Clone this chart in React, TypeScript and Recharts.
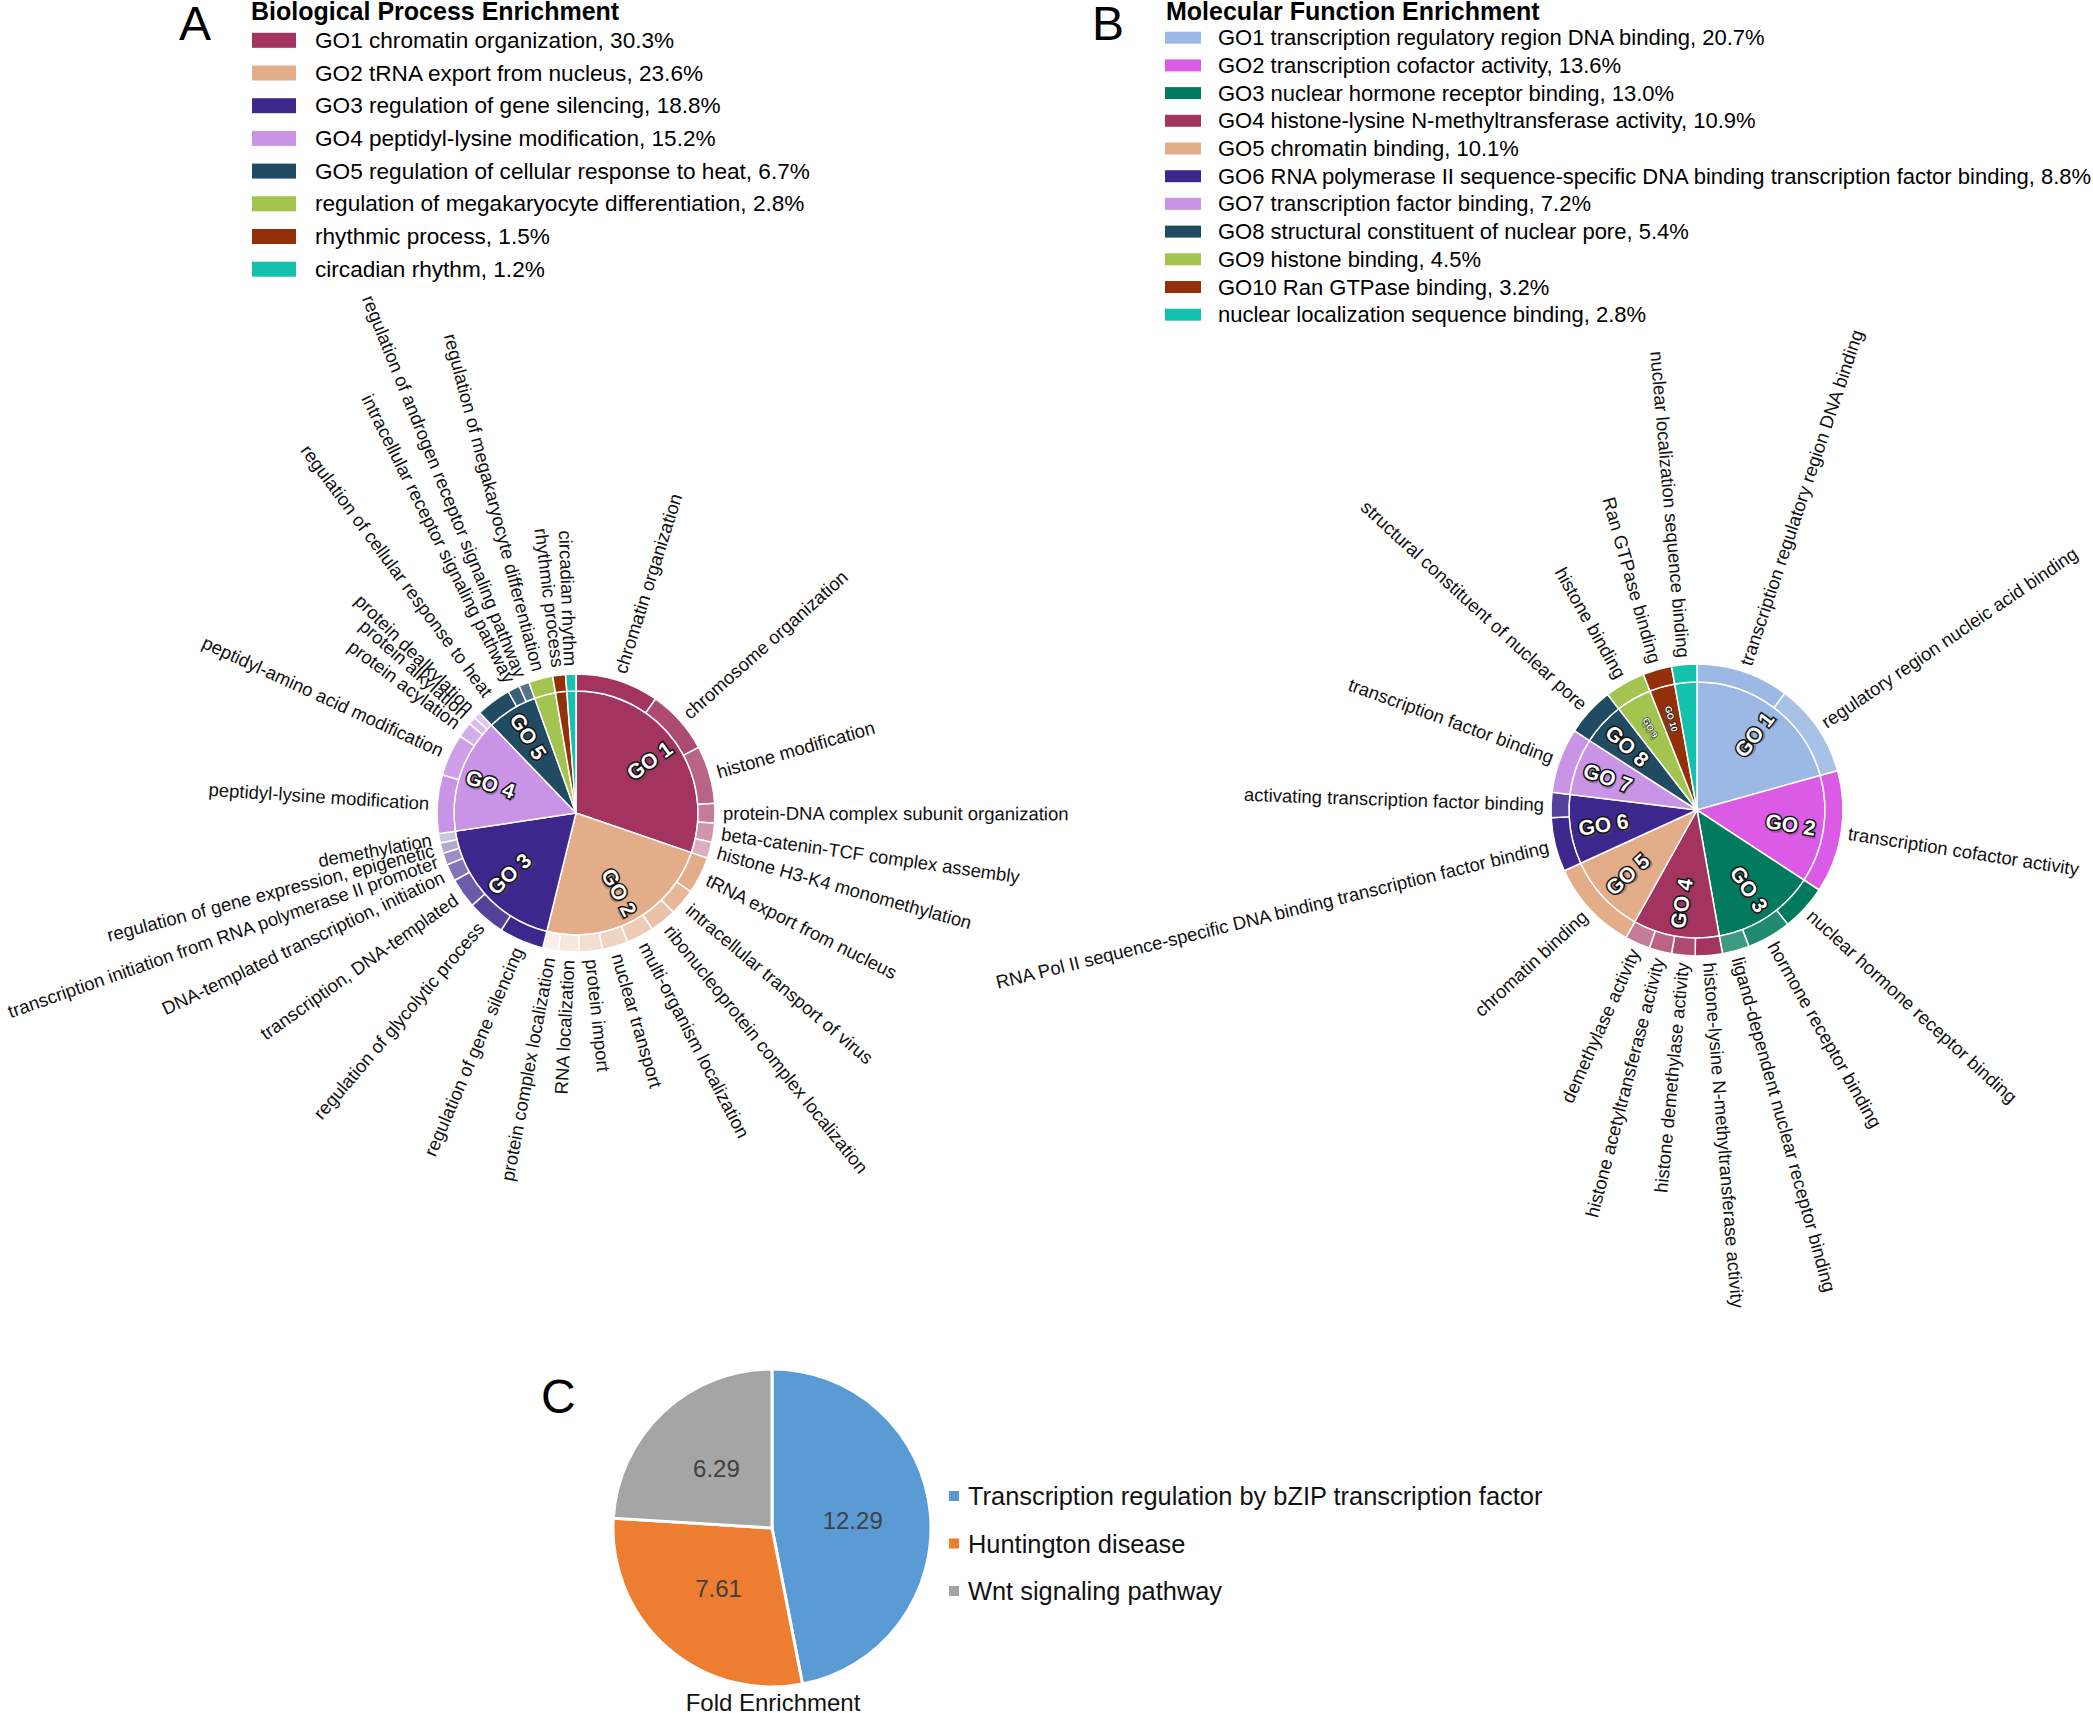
import React from 'react';
import { PieChart, Pie, Cell } from 'recharts';

const FONT = '"Liberation Sans", Arial, Helvetica, sans-serif';
const RAD = Math.PI / 180;

// ---- A: biological process ----
const bpLegend = [
  'GO1 chromatin organization, 30.3%',
  'GO2 tRNA export from nucleus, 23.6%',
  'GO3 regulation of gene silencing, 18.8%',
  'GO4 peptidyl-lysine modification, 15.2%',
  'GO5 regulation of cellular response to heat, 6.7%',
  'regulation of megakaryocyte differentiation, 2.8%',
  'rhythmic process, 1.5%',
  'circadian rhythm, 1.2%',
];
const bpGroupLabels = ['GO 1', 'GO 2', 'GO 3', 'GO 4', 'GO 5', '', '', ''];
const bpGroupValues = [30.3, 23.6, 18.8, 15.2, 6.7, 2.8, 1.5, 1.2];
const bpColors = ['#A3335F', '#E3AD8A', '#3E278C', '#C993E6', '#214B63', '#A3C54F', '#93300A', '#14C1AC'];

const bpTerms = [
  'chromatin organization', 'chromosome organization', 'histone modification',
  'protein-DNA complex subunit organization', 'beta-catenin-TCF complex assembly', 'histone H3-K4 monomethylation',
  'tRNA export from nucleus', 'intracellular transport of virus', 'ribonucleoprotein complex localization',
  'multi-organism localization', 'nuclear transport', 'protein import', 'RNA localization', 'protein complex localization',
  'regulation of gene silencing', 'regulation of glycolytic process', 'transcription, DNA-templated',
  'DNA-templated transcription, initiation', 'transcription initiation from RNA polymerase II promoter',
  'regulation of gene expression, epigenetic', 'demethylation',
  'peptidyl-lysine modification', 'peptidyl-amino acid modification', 'protein acylation', 'protein alkylation', 'protein dealkylation',
  'regulation of cellular response to heat', 'intracellular receptor signaling pathway', 'regulation of androgen receptor signaling pathway',
  'regulation of megakaryocyte differentiation', 'rhythmic process', 'circadian rhythm',
];
const bpTermValues = [
  9.7, 7.5, 6.7, 2.3, 2.2, 1.9,
  4.3, 3.1, 3.1, 3.2, 3.0, 2.7, 2.4, 1.8,
  5.2, 4.4, 3.5, 2.0, 1.4, 1.2, 1.1,
  6.8, 4.9, 1.8, 0.9, 0.8,
  4.1, 1.4, 1.2,
  2.8, 1.5, 1.2,
];
const bpTermGroup = [
  0, 0, 0, 0, 0, 0,
  1, 1, 1, 1, 1, 1, 1, 1,
  2, 2, 2, 2, 2, 2, 2,
  3, 3, 3, 3, 3,
  4, 4, 4,
  5, 6, 7,
];

// ---- B: molecular function ----
const mfLegend = [
  'GO1 transcription regulatory region DNA binding, 20.7%',
  'GO2 transcription cofactor activity, 13.6%',
  'GO3 nuclear hormone receptor binding, 13.0%',
  'GO4 histone-lysine N-methyltransferase activity, 10.9%',
  'GO5 chromatin binding, 10.1%',
  'GO6 RNA polymerase II sequence-specific DNA binding transcription factor binding, 8.8%',
  'GO7 transcription factor binding, 7.2%',
  'GO8 structural constituent of nuclear pore, 5.4%',
  'GO9 histone binding, 4.5%',
  'GO10 Ran GTPase binding, 3.2%',
  'nuclear localization sequence binding, 2.8%',
];
const mfGroupLabels = ['GO 1', 'GO 2', 'GO 3', 'GO 4', 'GO 5', 'GO 6', 'GO 7', 'GO 8', 'GO 9', 'GO 10', ''];
const mfGroupValues = [20.7, 13.6, 13.0, 10.9, 10.1, 8.8, 7.2, 5.4, 4.5, 3.2, 2.8];
const mfColors = ['#9BB9E4', '#DB5BE7', '#027A5E', '#A3335F', '#E3AD8A', '#3E278C', '#C993E6', '#214B63', '#A3C54F', '#93300A', '#14C1AC'];

const mfTerms = [
  'transcription regulatory region DNA binding', 'regulatory region nucleic acid binding',
  'transcription cofactor activity',
  'nuclear hormone receptor binding', 'hormone receptor binding', 'ligand-dependent nuclear receptor binding',
  'histone-lysine N-methyltransferase activity', 'histone demethylase activity', 'histone acetyltransferase activity', 'demethylase activity',
  'chromatin binding',
  'RNA Pol II sequence-specific DNA binding transcription factor binding', 'activating transcription factor binding',
  'transcription factor binding',
  'structural constituent of nuclear pore',
  'histone binding',
  'Ran GTPase binding',
  'nuclear localization sequence binding',
];
const mfTermValues = [10.3, 10.4, 13.6, 5.1, 4.9, 3.0, 3.0, 2.6, 2.5, 2.8, 10.1, 6.0, 2.8, 7.2, 5.4, 4.5, 3.2, 2.8];
const mfTermGroup = [0, 0, 1, 2, 2, 2, 3, 3, 3, 3, 4, 5, 5, 6, 7, 8, 9, 10];

// ---- C: fold enrichment ----
const feNames = ['Transcription regulation by bZIP transcription factor', 'Huntington disease', 'Wnt signaling pathway'];
const feValues = [12.29, 7.61, 6.29];
const feColors = ['#5B9BD5', '#ED7D31', '#A5A5A5'];

// mix a hex colour toward white
const lighten = (hex: string, t: number) => {
  const n = parseInt(hex.slice(1), 16);
  const ch = [(n >> 16) & 255, (n >> 8) & 255, n & 255].map((c) => Math.round(c + (255 - c) * t));
  return `rgb(${ch.join(',')})`;
};

const termColors = (groups: number[], colors: string[]) =>
  groups.map((g, i) => {
    const rank = groups.slice(0, i).filter((x) => x === g).length;
    return lighten(colors[g], Math.min(rank * 0.12, 0.8));
  });

const radialLabel = (offset: number, size: number) => (p: any) => {
  const { cx, cy, midAngle, outerRadius } = p;
  const name = p.name ?? p.payload?.name;
  const r = outerRadius + offset;
  const c = Math.cos(-midAngle * RAD);
  const s = Math.sin(-midAngle * RAD);
  const x = cx + r * c;
  const y = cy + r * s;
  const right = c >= 0;
  const rot = right ? -midAngle : 180 - midAngle;
  return (
    <text x={x} y={y} transform={`rotate(${rot} ${x} ${y})`} textAnchor={right ? 'start' : 'end'}
      dominantBaseline="central" fontSize={size} fontFamily={FONT} fill="#111">
      {name}
    </text>
  );
};

const innerLabel = (labels: string[]) => (p: any) => {
  const text = labels[p.index];
  if (!text) return null;
  const { cx, cy, midAngle, outerRadius, value } = p;
  const r = outerRadius * 0.74;
  const c = Math.cos(-midAngle * RAD);
  const s = Math.sin(-midAngle * RAD);
  const x = cx + r * c;
  const y = cy + r * s;
  const rot = c >= 0 ? -midAngle : 180 - midAngle;
  const fs = value < 5 ? 9 : 21;
  const sw = value < 5 ? 1.2 : 3;
  return (
    <g transform={`rotate(${rot} ${x} ${y})`}>
      <text x={x + 2} y={y + 3} textAnchor="middle" dominantBaseline="central" fontSize={fs} fontWeight="bold"
        fontFamily={FONT} fill="#555" opacity={0.45}>{text}</text>
      <text x={x} y={y} textAnchor="middle" dominantBaseline="central" fontSize={fs} fontWeight="bold"
        fontFamily={FONT} fill="#fff" stroke="#111" strokeWidth={sw} paintOrder="stroke">{text}</text>
    </g>
  );
};

const feLabel = (p: any) => {
  const { cx, cy, midAngle, outerRadius, value } = p;
  const r = outerRadius * 0.51;
  const x = cx + r * Math.cos(-midAngle * RAD);
  const y = cy + r * Math.sin(-midAngle * RAD);
  return (
    <text x={x} y={y} textAnchor="middle" dominantBaseline="central" fontSize={24} fontFamily={FONT} fill="#404040">
      {value.toFixed(2)}
    </text>
  );
};

const W = 2093;
const H = 1713;

export default function App() {
  const bpInner = bpGroupValues.map((v, i) => ({ name: bpGroupLabels[i], value: v }));
  const bpOuter = bpTerms.map((n, i) => ({ name: n, value: bpTermValues[i] }));
  const bpOuterColors = termColors(bpTermGroup, bpColors);
  const mfInner = mfGroupValues.map((v, i) => ({ name: mfGroupLabels[i], value: v }));
  const mfOuter = mfTerms.map((n, i) => ({ name: n, value: mfTermValues[i] }));
  const mfOuterColors = termColors(mfTermGroup, mfColors);
  const feData = feNames.map((n, i) => ({ name: n, value: feValues[i] }));

  return (
    <div style={{ position: 'absolute', left: 0, top: 0, width: W, height: H, background: '#fff', overflow: 'hidden' }}>
      <PieChart width={W} height={H} margin={{ top: 0, right: 0, bottom: 0, left: 0 }}
        style={{ position: 'absolute', left: 0, top: 0 }}>
        <Pie data={bpInner} dataKey="value" cx={576} cy={813} outerRadius={122} startAngle={90} endAngle={-270}
          stroke="#fff" strokeWidth={1.5} isAnimationActive={false} labelLine={false} label={innerLabel(bpGroupLabels)}>
          {bpInner.map((d, i) => <Cell key={i} fill={bpColors[i]} />)}
        </Pie>
        <Pie data={bpOuter} dataKey="value" cx={576} cy={813} innerRadius={122} outerRadius={139} startAngle={90} endAngle={-270}
          stroke="#fff" strokeWidth={1.5} isAnimationActive={false} labelLine={false} label={radialLabel(8, 18.5)}>
          {bpOuter.map((d, i) => <Cell key={i} fill={bpOuterColors[i]} />)}
        </Pie>
        <Pie data={mfInner} dataKey="value" cx={1697} cy={810} outerRadius={128} startAngle={90} endAngle={-270}
          stroke="#fff" strokeWidth={1.5} isAnimationActive={false} labelLine={false} label={innerLabel(mfGroupLabels)}>
          {mfInner.map((d, i) => <Cell key={i} fill={mfColors[i]} />)}
        </Pie>
        <Pie data={mfOuter} dataKey="value" cx={1697} cy={810} innerRadius={128} outerRadius={146} startAngle={90} endAngle={-270}
          stroke="#fff" strokeWidth={1.5} isAnimationActive={false} labelLine={false} label={radialLabel(7, 18.5)}>
          {mfOuter.map((d, i) => <Cell key={i} fill={mfOuterColors[i]} />)}
        </Pie>
        <Pie data={feData} dataKey="value" cx={772} cy={1528} outerRadius={159} startAngle={90} endAngle={-270}
          stroke="#fff" strokeWidth={3} isAnimationActive={false} labelLine={false} label={feLabel}>
          {feData.map((d, i) => <Cell key={i} fill={feColors[i]} />)}
        </Pie>
      </PieChart>

      <svg width={W} height={H} style={{ position: 'absolute', left: 0, top: 0, pointerEvents: 'none' }} fontFamily={FONT}>
        <text x={179} y={40} fontSize={48}>A</text>
        <text x={1092} y={40} fontSize={48}>B</text>
        <text x={541} y={1413} fontSize={48}>C</text>

        <text x={251} y={20} fontSize={25} fontWeight="bold">Biological Process Enrichment</text>
        {bpLegend.map((t, i) => (
          <g key={t}>
            <rect x={252} y={40.3 + i * 32.7 - 7.5} width={44} height={15} fill={bpColors[i]} />
            <text x={315} y={40.3 + i * 32.7} fontSize={22.6} dominantBaseline="central">{t}</text>
          </g>
        ))}

        <text x={1166} y={20} fontSize={25} fontWeight="bold">Molecular Function Enrichment</text>
        {mfLegend.map((t, i) => (
          <g key={t}>
            <rect x={1165} y={37.7 + i * 27.7 - 6} width={36} height={12} fill={mfColors[i]} />
            <text x={1218} y={37.7 + i * 27.7} fontSize={22} dominantBaseline="central">{t}</text>
          </g>
        ))}

        {feNames.map((t, i) => (
          <g key={t}>
            <rect x={949} y={1496 + i * 47.5 - 5} width={10} height={10} fill={feColors[i]} />
            <text x={968} y={1496 + i * 47.5} fontSize={25.4} dominantBaseline="central" fill="#111">{t}</text>
          </g>
        ))}
        <text x={773} y={1711} fontSize={24} textAnchor="middle" fill="#111">Fold Enrichment</text>
      </svg>
    </div>
  );
}
